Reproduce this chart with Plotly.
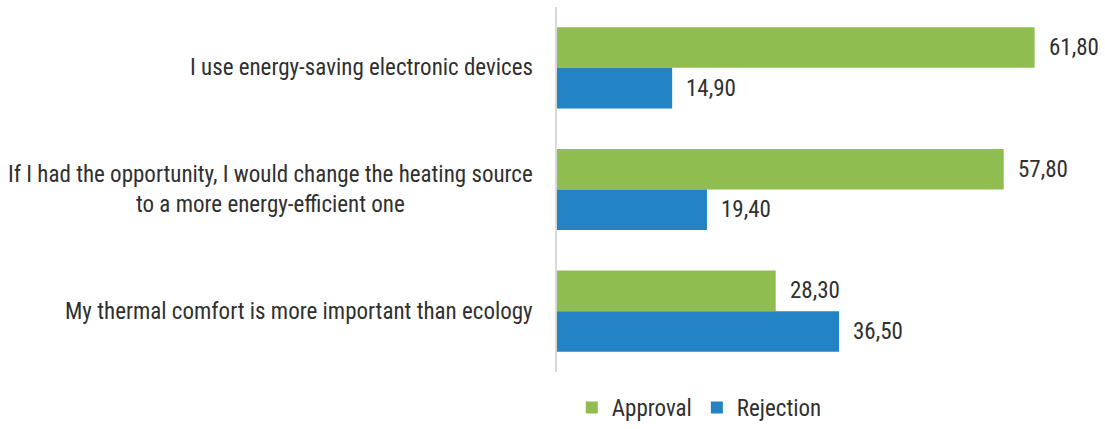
import plotly.graph_objects as go

categories = [
    "I use energy-saving electronic devices",
    "If I had the opportunity, I would change the heating source<br>to a more energy-efficient one",
    "My thermal comfort is more important than ecology",
]
approval = [61.80, 57.80, 28.30]
rejection = [14.90, 19.40, 36.50]
series_names = ["Approval", "Rejection"]
colors = ["#8FBD50", "#2383C4"]

FONT = "Liberation Sans Narrow, Roboto Condensed, Roboto, sans-serif"
TXT = "#303030"
FS = 23

fig = go.Figure()
for name, vals, col in zip(series_names, [approval, rejection], colors):
    fig.add_trace(go.Bar(
        y=categories, x=vals, name=name, orientation="h",
        marker=dict(color=col, line=dict(width=0)),
    ))

annotations = []
GAP = 0.333
for k, vals in enumerate([approval, rejection]):
    for i, (c, v) in enumerate(zip(categories, vals)):
        annotations.append(dict(
            x=v, y=i + (-0.5 + (k + 0.5) / 2) * (1 - GAP), xref="x", yref="y",
            text=f"{v:.2f}".replace(".", ","), showarrow=False,
            xanchor="left", xshift=12, yanchor="middle",
            font=dict(family=FONT, size=FS, color=TXT),
        ))
for i, c in enumerate(categories):
    annotations.append(dict(
        x=0, y=i, xref="x", yref="y", text=c, showarrow=False,
        xanchor="right", xshift=-22, yanchor="middle", align="center",
        font=dict(family=FONT, size=FS, color=TXT),
    ))

fig.update_layout(
    width=1105, height=429,
    margin=dict(l=557, r=7, t=7, b=0),
    barmode="group", bargap=GAP, bargroupgap=0,
    plot_bgcolor="white", paper_bgcolor="white",
    font=dict(family=FONT, size=FS, color=TXT),
    xaxis=dict(range=[0, 70], visible=False, showgrid=False, zeroline=False),
    yaxis=dict(
        type="category", autorange="reversed", showticklabels=False,
        showline=True, linecolor="#D9D9D9", linewidth=2, ticks="",
        showgrid=False, zeroline=False, domain=[0.135, 1],
    ),
    legend=dict(
        orientation="h", x=0.263, xanchor="center", y=0, yanchor="bottom",
        font=dict(family=FONT, size=FS, color=TXT),
        itemwidth=30, bgcolor="rgba(0,0,0,0)",
    ),
    annotations=annotations,
    showlegend=True,
)

fig.write_html("out.html")
